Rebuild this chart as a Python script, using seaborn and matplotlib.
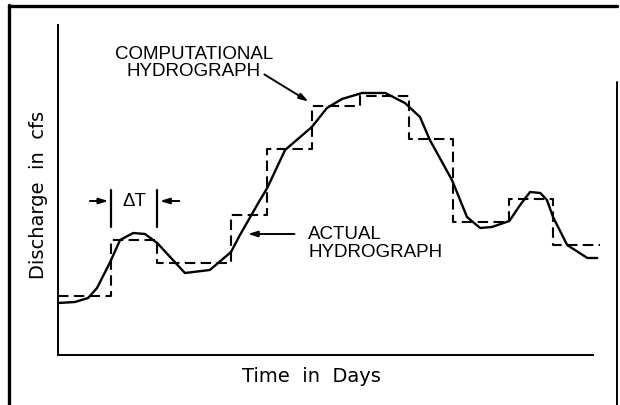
import numpy as np
import pandas as pd
import matplotlib
matplotlib.use("Agg")
import matplotlib.pyplot as plt
from matplotlib.lines import Line2D
import seaborn as sns

# ── data ─────────────────────────────────────────────────
# computational hydrograph: step edges (days) and levels (cfs)
STEP_EDGES  = [0, 1.13, 2.11, 3.68, 4.45, 5.40, 6.43, 7.47, 8.40, 9.60, 10.53, 11.53]
STEP_LEVELS = [5.9, 11.5, 9.2, 14.0, 20.6, 24.9, 25.9, 21.6, 13.3, 15.6, 11.0]

# actual hydrograph
ACT_DAYS = [0, 0.36, 0.64, 0.83, 1.11, 1.32, 1.60, 1.85, 2.11, 2.70, 3.23, 3.68,
            3.87, 4.26, 4.45, 4.83, 5.40, 5.72, 6.04, 6.47, 6.96, 7.38, 7.70,
            7.91, 8.38, 8.70, 8.98, 9.23, 9.60, 9.83, 10.04, 10.26, 10.40,
            10.53, 10.83, 11.26, 11.47]
ACT_CFS  = [5.2, 5.3, 5.7, 6.7, 9.3, 11.5, 12.2, 12.1, 11.2, 8.2, 8.5, 10.3,
            12.0, 15.2, 16.7, 20.5, 22.8, 24.7, 25.6, 26.2, 26.2, 25.2, 23.8,
            21.5, 17.5, 13.8, 12.7, 12.8, 13.4, 15.0, 16.3, 16.2, 15.5,
            13.8, 11.0, 9.7, 9.7]

step_df = pd.DataFrame({"days": STEP_EDGES, "cfs": STEP_LEVELS + [STEP_LEVELS[-1]]})
act_df  = pd.DataFrame({"days": ACT_DAYS, "cfs": ACT_CFS})

# ── style ────────────────────────────────────────────────
sns.set_style("white")
plt.rcParams["font.family"] = ["Liberation Sans", "DejaVu Sans"]
plt.rcParams["text.color"] = "black"
plt.rcParams["axes.labelcolor"] = "black"

fig = plt.figure(figsize=(6.2, 4.05), dpi=100)
ax = fig.add_axes([58/620, 50/405, 535/620, 330/405])

sns.lineplot(data=step_df, x="days", y="cfs", ax=ax, drawstyle="steps-post",
             color="black", lw=1.5, dashes=False, linestyle=(0, (5, 2.6)),
             clip_on=False, estimator=None, sort=False)
sns.lineplot(data=act_df, x="days", y="cfs", ax=ax, color="black", lw=1.7,
             estimator=None, sort=False, clip_on=False)

ax.set_xlim(0, 11.38)
ax.set_ylim(0, 33)
ax.set_xticks([])
ax.set_yticks([])
sns.despine(ax=ax)
for s in ("left", "bottom"):
    ax.spines[s].set_color("black")
    ax.spines[s].set_linewidth(1.4)

lab_font = dict(family=["DejaVu Sans"], fontsize=14)
ax.set_xlabel("Time  in  Days", **lab_font)
ax.set_ylabel("Discharge  in  cfs", **lab_font)
ax.xaxis.set_label_coords(0.474, -0.064)
ax.xaxis.label.set_va("center")
ax.yaxis.set_label_coords(-0.036, 0.485)
ax.yaxis.label.set_va("center")

# ── annotations ──────────────────────────────────────────
arrow = dict(arrowstyle="-|>,head_length=0.55,head_width=0.17", color="black", lw=1.4)

# ΔT marker
for xe in (STEP_EDGES[1], STEP_EDGES[2]):
    ax.plot([xe, xe], [12.8, 16.5], color="black", lw=1.6)
ax.annotate("", xy=(STEP_EDGES[1], 15.4), xytext=(0.62, 15.4), arrowprops=arrow)
ax.annotate("", xy=(STEP_EDGES[2], 15.4), xytext=(2.64, 15.4), arrowprops=arrow)
ax.text((STEP_EDGES[1] + STEP_EDGES[2]) / 2, 15.4, "ΔT", ha="center", va="center",
        fontsize=13.5)

ax.text(2.89, 29.2, "COMPUTATIONAL\nHYDROGRAPH", ha="center", va="center",
        fontsize=13.5, linespacing=1.05)
ax.annotate("", xy=(5.38, 25.2), xytext=(4.34, 28.2), arrowprops=arrow)

ax.text(5.32, 11.15, "ACTUAL\nHYDROGRAPH", ha="left", va="center",
        fontsize=13.5, linespacing=1.05)
ax.annotate("", xy=(3.98, 12.1), xytext=(5.09, 12.1), arrowprops=arrow)

# outer frame
fig.add_artist(Line2D([9/620, 9/620], [0, 1 - 5/405], color="black", lw=2.4))
fig.add_artist(Line2D([9/620, 617/620], [1 - 6/405, 1 - 6/405], color="black", lw=2.4))
fig.add_artist(Line2D([617/620, 617/620], [0, 1 - 82/405], color="black", lw=1.4))

plt.savefig("out.png", dpi=100)
